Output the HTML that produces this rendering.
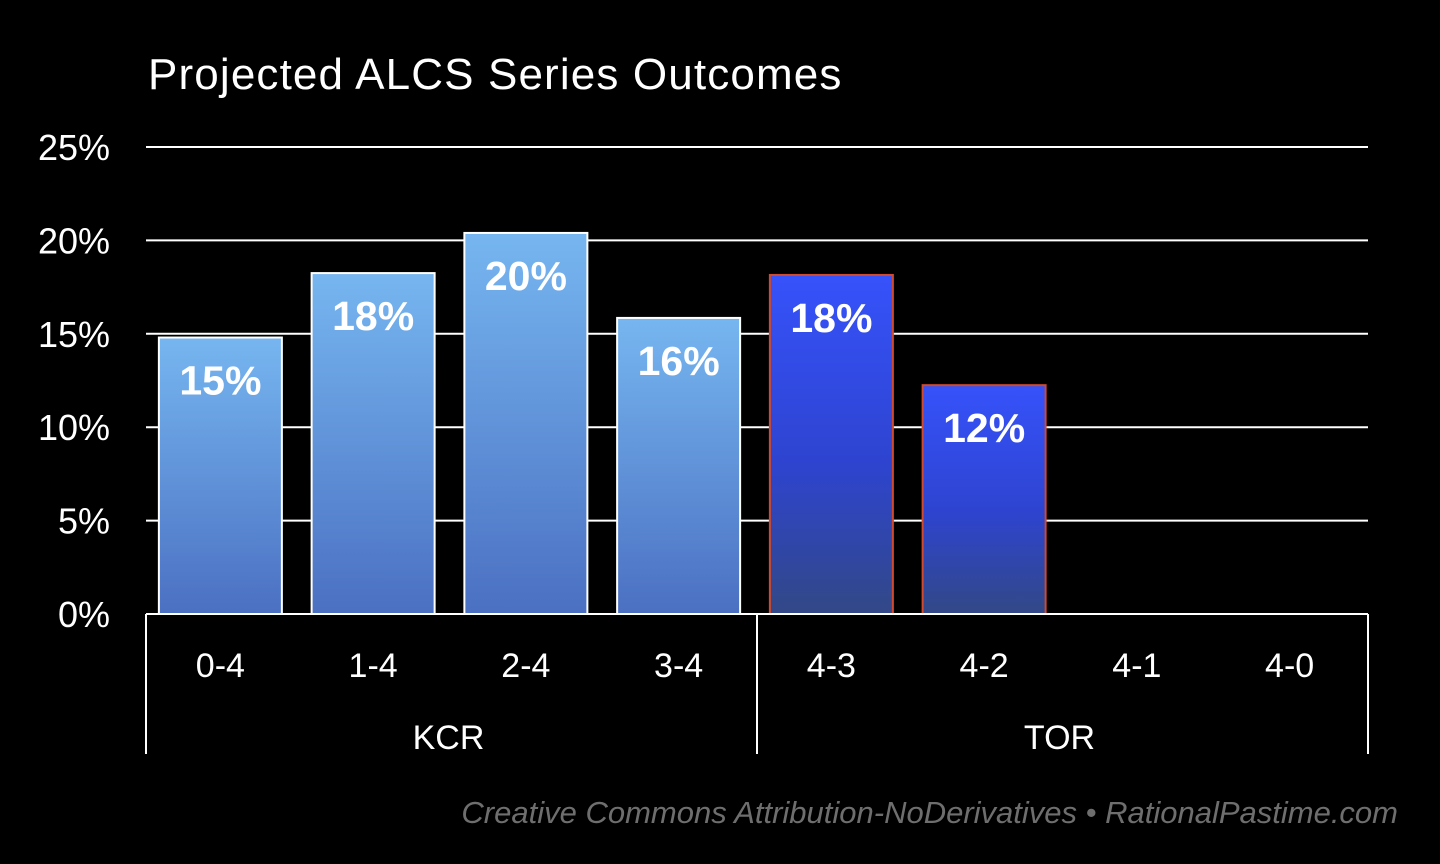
<!DOCTYPE html>
<html><head><meta charset="utf-8"><style>
html,body{margin:0;padding:0;background:#000;width:1440px;height:864px;overflow:hidden}
svg text{font-family:"Liberation Sans",sans-serif}
</style></head><body>
<svg id="chart" width="1440" height="864" xmlns="http://www.w3.org/2000/svg">
<defs>
<linearGradient id="gk" x1="0" y1="0" x2="0" y2="1"><stop offset="0" stop-color="#76b6f0"/><stop offset="1" stop-color="#4b70c2"/></linearGradient>
<linearGradient id="gt" x1="0" y1="0" x2="0" y2="1"><stop offset="0" stop-color="#3652fa"/><stop offset="0.55" stop-color="#2e44d0"/><stop offset="1" stop-color="#324886"/></linearGradient>
</defs>
<text x="148" y="89" fill="#fff" font-size="44" letter-spacing="0.6" textLength="694" lengthAdjust="spacing">Projected ALCS Series Outcomes</text>
<g id="grid"></g><g id="bars"></g><g id="xaxis"></g>
<text x="1398" y="823" text-anchor="end" fill="#6e6e6e" font-size="31" font-style="italic">Creative Commons Attribution-NoDerivatives • RationalPastime.com</text>
</svg>
<script>
const categories=["0-4","1-4","2-4","3-4","4-3","4-2","4-1","4-0"];
const teams=["KCR","KCR","KCR","KCR","TOR","TOR","TOR","TOR"];
const values=[14.8,18.25,20.4,15.85,18.15,12.25,0,0];
const valueLabels=["15%","18%","20%","16%","18%","12%","",""];
const yTicks=[0,5,10,15,20,25];
const groups=["KCR","TOR"];
const NS="http://www.w3.org/2000/svg";
const x0=146,x1=1368,y0=614,y1=147,ymax=25;
const slot=(x1-x0)/categories.length;
const y=v=>y0-(v/ymax)*(y0-y1);
const xc=i=>x0+slot*(i+0.5);
function mk(t,a,p){const e=document.createElementNS(NS,t);for(const k in a)e.setAttribute(k,a[k]);p.appendChild(e);return e;}
const grid=document.getElementById('grid');
yTicks.forEach(t=>{
 const l=mk('line',{x1:x0,x2:x1,y1:y(t),y2:y(t),stroke:'#fff','stroke-width':2},grid);
 
 
 const tx=mk('text',{x:110,y:y(t)+13,'text-anchor':'end',fill:'#fff','font-size':36},grid);
 tx.textContent=t+'%';
 
 
});
const bars=document.getElementById('bars');
const bw=123;
values.forEach((v,i)=>{
 if(v<=0)return;
 const tor=teams[i]==="TOR";
 const r=mk('rect',{x:xc(i)-bw/2-2,y:y(v),width:bw,height:y0-y(v),fill:tor?'url(#gt)':'url(#gk)',stroke:tor?'#d04a30':'#fff','stroke-width':2},bars);
 
 
 const t=mk('text',{x:xc(i)-2,y:y(v)+57,'text-anchor':'middle',fill:'#fff','font-size':41,'font-weight':'bold'},bars);
 t.textContent=valueLabels[i];
 
 
});
const xa=document.getElementById('xaxis');
const base=mk('line',{x1:x0,x2:x1,y1:y0,y2:y0,stroke:'#fff','stroke-width':2},xa);


categories.forEach((c,i)=>{
 const t=mk('text',{x:xc(i)-2,y:677,'text-anchor':'middle',fill:'#fff','font-size':34},xa);
 t.textContent=c;
 
 
});
const per=categories.length/groups.length;
for(let g=0;g<=groups.length;g++){
 const xx=x0+g*per*slot;
 const l=mk('line',{x1:xx,x2:xx,y1:y0,y2:754,stroke:'#fff','stroke-width':2},xa);
 
 
}
groups.forEach((g,i)=>{
 const t=mk('text',{x:x0+(i+0.5)*per*slot-3,y:749,'text-anchor':'middle',fill:'#fff','font-size':34},xa);
 t.textContent=g;
 
 
});
</script>
</body></html>
